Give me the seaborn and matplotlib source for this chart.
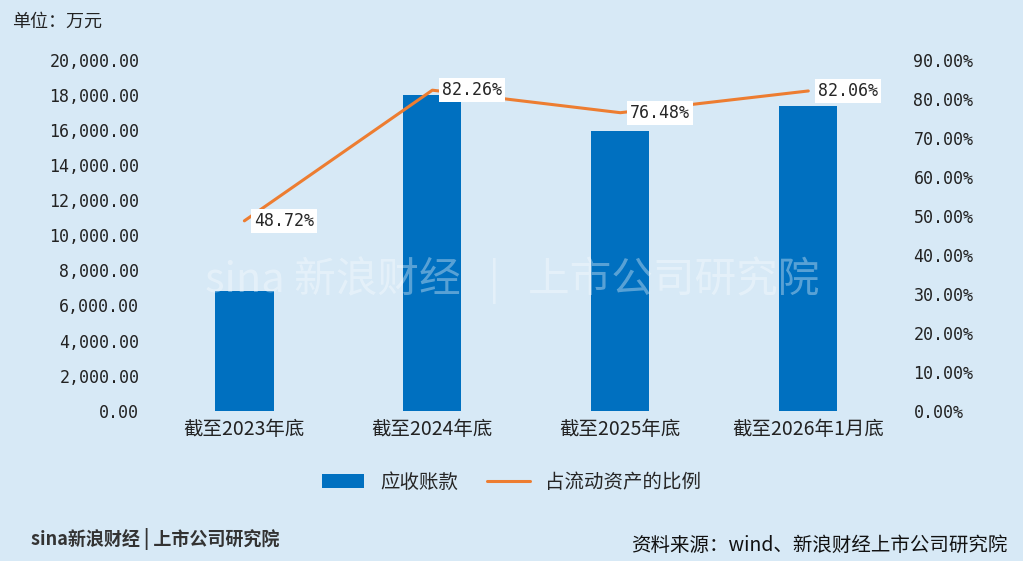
import matplotlib
matplotlib.use("Agg")
import matplotlib.pyplot as plt
import seaborn as sns
import pandas as pd
from matplotlib.ticker import FuncFormatter

categories = ["截至2023年底", "截至2024年底", "截至2025年底", "截至2026年1月底"]
receivables = [6850, 18000, 15950, 17400]
ratio = [48.72, 82.26, 76.48, 82.06]

sns.set_style("white")
plt.rcParams['font.family'] = ['DejaVu Sans Mono', 'Noto Sans CJK SC']
bg = "#d7e9f6"
fig = plt.figure(figsize=(10.23, 5.61), dpi=100, facecolor=bg)
ax = fig.add_axes([0.147, 0.268, 0.735, 0.625])
ax.set_facecolor(bg)
df = pd.DataFrame({"cat": categories, "val": receivables})
sns.barplot(data=df, x="cat", y="val", color="#0070c0", width=0.31, ax=ax, saturation=1,
            label="应收账款", linewidth=0)
ax.set_ylim(0, 20000)
ax.set_yticks(range(0, 20001, 2000))
ax.yaxis.set_major_formatter(FuncFormatter(lambda v, p: f"{v:,.2f}"))
ax.set_xlabel(""); ax.set_ylabel("")
for s in ax.spines.values():
    s.set_visible(False)
ax.tick_params(length=0, labelsize=12, colors="#222222")
ax.tick_params(axis="y", pad=8)
ax.tick_params(axis="x", labelsize=14, pad=6)
for t in ax.get_xticklabels():
    t.set_fontfamily(['Noto Sans CJK SC'])

ax2 = ax.twinx()
sns.lineplot(x=list(range(4)), y=ratio, color="#ed7d31", linewidth=2.2, ax=ax2, label="占流动资产的比例")
ax2.set_ylim(0, 90)
ax2.set_yticks(range(0, 91, 10))
ax2.yaxis.set_major_formatter(FuncFormatter(lambda v, p: f"{v:.2f}%"))
for s in ax2.spines.values():
    s.set_visible(False)
ax2.tick_params(length=0, labelsize=12, colors="#222222", pad=8)
for i, r in enumerate(ratio):
    ax2.text(i + 0.05, r, f"{r:.2f}%", fontsize=12, va="center", ha="left",
             bbox=dict(facecolor="white", edgecolor="none", pad=2))
h1, l1 = ax.get_legend_handles_labels()
h2, l2 = ax2.get_legend_handles_labels()
for a in (ax, ax2):
    if a.get_legend() is not None:
        a.get_legend().remove()
ax.set_xlim(-0.5, 3.5)

fig.legend(h1 + h2, l1 + l2, loc="center", bbox_to_anchor=(0.5, 0.14), ncol=2, frameon=False,
           prop={'family': 'Noto Sans CJK SC', 'size': 14}, handlelength=2.2, columnspacing=1.5)

cjk = ['Noto Sans CJK SC']
fig.text(0.012, 0.962, "单位：万元", fontsize=13, color="#222222", va="center", family=cjk)
fig.text(0.985, 0.028, "资料来源：wind、新浪财经上市公司研究院", fontsize=14, ha="right", va="center", color="#111111", family=cjk)
fig.text(0.03, 0.04, "sina新浪财经 | 上市公司研究院", fontsize=13, color="#333333", va="center", fontweight="bold", family=cjk)
fig.text(0.2, 0.5, "sina 新浪财经   |   上市公司研究院", fontsize=30, color="white", alpha=0.35, va="center", family=cjk)
fig.savefig("out.png", dpi=100, facecolor=bg)
